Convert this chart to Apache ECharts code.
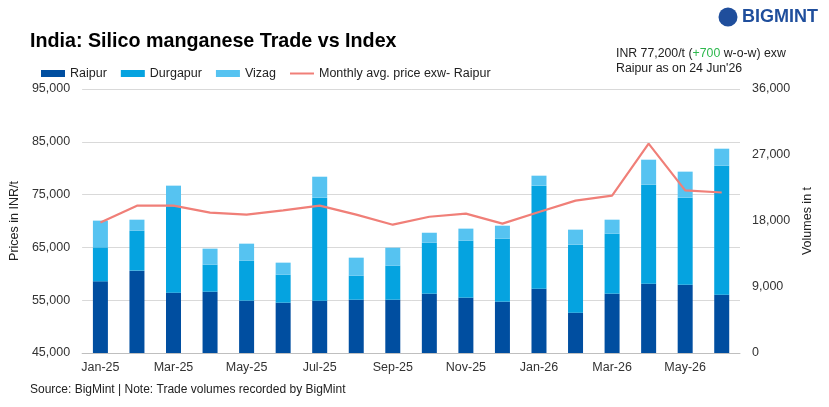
<!DOCTYPE html>
<html><head><meta charset="utf-8">
<script src="https://cdn.jsdelivr.net/npm/echarts@6/dist/echarts.min.js"></script>
<style>html,body{margin:0;padding:0;background:#fff}#c{width:829px;height:407px}</style>
</head><body><div id="c"></div>
<script>
const months = ["Jan-25","Feb-25","Mar-25","Apr-25","May-25","Jun-25","Jul-25","Aug-25","Sep-25","Oct-25","Nov-25","Dec-25","Jan-26","Feb-26","Mar-26","Apr-26","May-26","Jun-26"];
const raipur   = [9770,11230,8230,8360,7140,6860,7140,7270,7270,8090,7550,7000,8770,5500,8090,9450,9320,7950];
const durgapur = [4640,5450,11770,3690,5450,3820,14040,3270,4640,6950,7770,8590,14050,9270,8180,13500,11860,17590];
const vizag    = [3640,1500,2820,2180,2320,1640,2860,2460,2450,1360,1640,1770,1360,2050,1910,3410,3550,2320];
const priceRaipur = [69700,72900,72900,71600,71200,72000,72900,71200,69300,70800,71400,69500,71700,73850,74800,84650,75800,75400];
const leftTicks = [45000,95000,10000];
const rightTicks = [0,36000,9000];

const FONT = '"Liberation Sans Narrow","Liberation Sans",Arial,sans-serif';
const chart = echarts.init(document.getElementById('c'), null, {renderer:'canvas'});
const fmt = v => v.toLocaleString('en-US');
chart.setOption({
  animation:false,
  textStyle:{fontFamily:FONT},
  title:{text:'India: Silico manganese Trade vs Index',left:25,top:27,
    textStyle:{fontFamily:FONT,fontSize:19.7,fontWeight:'bold',color:'#000'}},
  legend:{left:36,top:62,itemGap:14,itemWidth:24,itemHeight:7,
    textStyle:{fontFamily:FONT,fontSize:12.5,color:'#222'},
    data:[{name:'Raipur',icon:'rect'},{name:'Durgapur',icon:'rect'},{name:'Vizag',icon:'rect'},
      {name:'Monthly avg. price exw- Raipur',icon:'path://M0,0 L24,0 L24,2 L0,2 Z'}]},
  graphic:[
    {type:'text',left:616,top:48,style:{text:'{a|INR 77,200/t (}{g|+700}{a| w-o-w) exw}\n{a|Raipur as on 24 Jun\'26}',
      rich:{a:{fontFamily:FONT,fontSize:12.3,fill:'#222',lineHeight:15},g:{fontFamily:FONT,fontSize:12.3,fill:'#2db84d',lineHeight:15}}}},
    {type:'circle',shape:{cx:728,cy:17,r:9.5},style:{fill:'#1f4e9c'}},
    {type:'text',left:742,top:8,style:{text:'BIGMINT',fontFamily:FONT,fontSize:18,fontWeight:'bold',fill:'#1f4e9c'}},
    {type:'text',left:30,top:384,style:{text:'Source: BigMint | Note: Trade volumes recorded by BigMint',fontFamily:FONT,fontSize:12,fill:'#222'}}
  ],
  grid:{left:80,right:89,top:89,height:264,containLabel:false},
  xAxis:{type:'category',data:months,
    axisLine:{lineStyle:{color:'#bfbfbf'}},
    axisTick:{interval:1,length:4,lineStyle:{color:'#bfbfbf'}},
    axisLabel:{interval:1,color:'#333',fontSize:12.5,margin:8,fontFamily:FONT}},
  yAxis:[
    {type:'value',min:leftTicks[0],max:leftTicks[1],interval:leftTicks[2],position:'left',
     name:'Prices in INR/t',nameLocation:'middle',nameGap:57,nameRotate:90,
     nameTextStyle:{fontFamily:FONT,fontSize:12.5,color:'#222'},
     axisLabel:{formatter:fmt,color:'#333',fontSize:12.5,margin:12,fontFamily:FONT},
     axisLine:{show:false},axisTick:{show:false},
     splitLine:{lineStyle:{color:'#d9d9d9',width:1}}},
    {type:'value',min:rightTicks[0],max:rightTicks[1],interval:rightTicks[2],position:'right',
     name:'Volumes in t',nameLocation:'middle',nameGap:60,nameRotate:90,
     nameTextStyle:{fontFamily:FONT,fontSize:12.5,color:'#222'},
     axisLabel:{formatter:fmt,color:'#333',fontSize:12.5,margin:12,fontFamily:FONT},
     axisLine:{show:false},axisTick:{show:false},splitLine:{show:false}}
  ],
  series:[
    {name:'Raipur',type:'bar',stack:'v',yAxisIndex:1,data:raipur,barWidth:15,itemStyle:{color:'#004ea0'}},
    {name:'Durgapur',type:'bar',stack:'v',yAxisIndex:1,data:durgapur,barWidth:15,itemStyle:{color:'#05a3e0'}},
    {name:'Vizag',type:'bar',stack:'v',yAxisIndex:1,data:vizag,barWidth:15,itemStyle:{color:'#56c3f1'}},
    {name:'Monthly avg. price exw- Raipur',type:'line',yAxisIndex:0,data:priceRaipur,symbol:'none',
     lineStyle:{color:'#f07f78',width:2.2},itemStyle:{color:'#f07f78'},z:5}
  ]
});
</script></body></html>
